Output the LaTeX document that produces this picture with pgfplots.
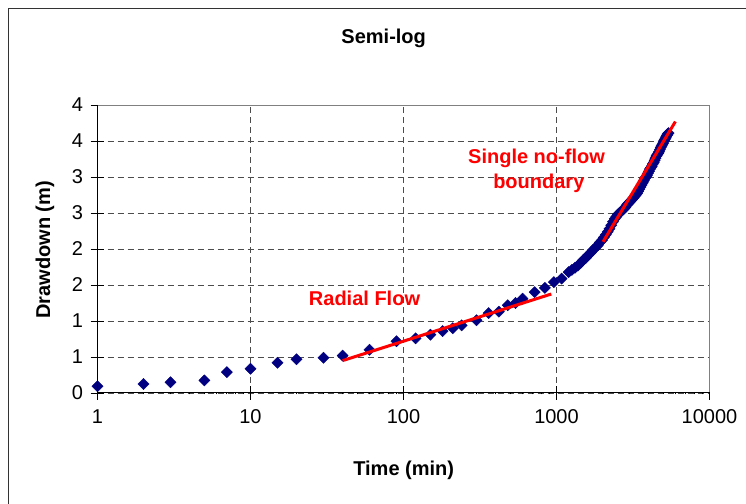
\documentclass[border=0pt]{standalone}
\usepackage{pgfplots}
\pgfplotsset{compat=1.18}
\usepackage{fontspec}
\setmainfont{Liberation Sans}
\definecolor{navy}{RGB}{0,0,128}
\newcommand\f{\fontsize{20bp}{24bp}\selectfont}
\begin{document}
\begin{tikzpicture}
\useasboundingbox (0,0) rectangle (746bp,504bp);
\draw[black!80, line width=1.4bp] (8.5bp,-5bp) -- (8.5bp,495.5bp) -- (760bp,495.5bp);
\begin{axis}[
  at={(97.5bp,111bp)}, anchor=south west,
  scale only axis, width=612bp, height=288bp,
  xmode=log, xmin=1, xmax=10000, ymin=0, ymax=4,
  clip=false, clip marker paths=true,
  xtick={1,10,100,1000,10000},
  xticklabels={1,10,100,1000,10000},
  ytick={0,0.5,1,1.5,2,2.5,3,3.5,4},
  yticklabels={0,1,1,2,2,3,3,4,4},
  minor xtick={},
  xtick pos=bottom, ytick pos=left,
  tick label style={font=\f},
  tick align=center, major tick length=14bp,
  tick style={black, line width=0.8bp},
  xmajorgrids, ymajorgrids,
  major grid style={black!70, dash pattern=on 6bp off 4bp, line width=0.8bp},
  axis line style={black!50, line width=1bp},
  xticklabel style={yshift=-6bp},
  yticklabel style={xshift=-4bp},
]
\addplot[only marks, mark=diamond*, mark size=5.6bp, mark options={xscale=1.33, fill=navy, draw=navy}, color=navy]
coordinates {
(1,0.093) (2,0.125) (3,0.148) (5,0.175) (7,0.29) (10,0.338) (15,0.42) (20,0.468) (30,0.49) (40,0.52)
(60,0.60) (90,0.72) (120,0.76) (150,0.81) (180,0.86) (210,0.90) (240,0.94) (300,1.01) (360,1.11) (420,1.13)
(480,1.22) (540,1.25) (600,1.31) (720,1.40) (840,1.46) (960,1.54) (1080,1.59) (1200,1.68) (1260,1.71) (1320,1.74)
(1380,1.77) (1440,1.81) (1500,1.85) (1560,1.88) (1620,1.92) (1680,1.95) (1740,1.99) (1800,2.02) (1860,2.05) (1920,2.09)
(1980,2.12) (2040,2.16) (2100,2.20) (2160,2.24) (2220,2.28) (2280,2.33) (2340,2.38) (2400,2.42) (2460,2.45) (2520,2.48)
(2580,2.50) (2640,2.52) (2700,2.54) (2760,2.56) (2820,2.58) (2880,2.61) (2940,2.63) (3000,2.65) (3060,2.67) (3120,2.69)
(3180,2.71) (3240,2.73) (3300,2.75) (3360,2.77) (3420,2.80) (3480,2.83) (3540,2.86) (3600,2.89) (3660,2.92) (3720,2.95)
(3780,2.98) (3840,3.00) (3900,3.02) (3960,3.05) (4020,3.08) (4080,3.11) (4140,3.13) (4200,3.15) (4260,3.18) (4320,3.20)
(4380,3.23) (4440,3.26) (4500,3.29) (4560,3.31) (4620,3.33) (4680,3.35) (4740,3.38) (4800,3.41) (4860,3.43) (4920,3.45)
(4980,3.47) (5040,3.50) (5100,3.52) (5160,3.54) (5220,3.56) (5280,3.58) (5340,3.60) (5400,3.61)
};
\addplot[red, line width=3bp] coordinates {(40,0.45) (925,1.375)};
\addplot[red, line width=3bp] coordinates {(2014,2.10) (5984,3.77)};
\end{axis}
\node[anchor=base, font=\f\bfseries] at (383.7bp,460bp) {Semi-log};
\node[anchor=base, font=\f\bfseries] at (403.7bp,29bp) {Time (min)};
\node[rotate=90, font=\f\bfseries] at (45bp,254bp) {Drawdown (m)};
\node[anchor=base, font=\f\bfseries, text=red] at (364.5bp,198bp) {Radial Flow};
\node[anchor=base, font=\f\bfseries, text=red] at (536.5bp,340.7bp) {Single no-flow};
\node[anchor=base, font=\f\bfseries, text=red] at (538.8bp,315.7bp) {boundary};
\draw[black, line width=1bp] (97.5bp,399bp) -- (97.5bp,111bp) -- (709.5bp,111bp);
\end{tikzpicture}
\end{document}
